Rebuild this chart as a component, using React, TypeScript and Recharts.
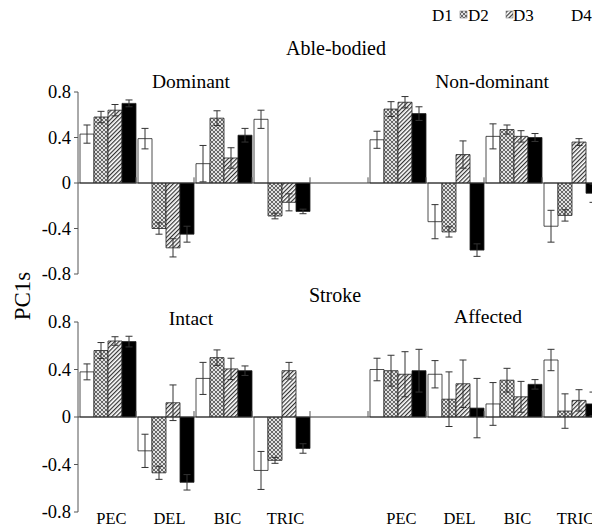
import React from 'react';
import { BarChart, Bar, XAxis, YAxis, ErrorBar, ReferenceLine } from 'recharts';

const FONT = '"Liberation Serif", "Times New Roman", serif';

const muscles = ['PEC', 'DEL', 'BIC', 'TRIC'];
const series = ['D1', 'D2', 'D3', 'D4'];
const yTicks = [-0.8, -0.4, 0, 0.4, 0.8];

// Able-bodied: Dominant (PEC, DEL, BIC, TRIC) then Non-dominant
const ableD1 = [0.43, 0.39, 0.17, 0.56, 0.38, -0.34, 0.41, -0.38];
const ableD2 = [0.58, -0.4, 0.57, -0.29, 0.65, -0.43, 0.47, -0.285];
const ableD3 = [0.64, -0.57, 0.22, -0.17, 0.71, 0.25, 0.41, 0.36];
const ableD4 = [0.7, -0.45, 0.42, -0.25, 0.61, -0.59, 0.4, -0.09];
const ableE1 = [0.08, 0.09, 0.16, 0.08, 0.075, 0.15, 0.11, 0.14];
const ableE2 = [0.05, 0.05, 0.065, 0.025, 0.065, 0.045, 0.04, 0.05];
const ableE3 = [0.05, 0.08, 0.09, 0.075, 0.05, 0.12, 0.05, 0.03];
const ableE4 = [0.03, 0.07, 0.06, 0.02, 0.06, 0.055, 0.035, 0.08];

// Stroke: Intact then Affected
const strokeD1 = [0.38, -0.285, 0.325, -0.45, 0.4, 0.36, 0.11, 0.48];
const strokeD2 = [0.56, -0.47, 0.5, -0.365, 0.39, 0.15, 0.31, 0.05];
const strokeD3 = [0.64, 0.12, 0.405, 0.39, 0.36, 0.28, 0.17, 0.14];
const strokeD4 = [0.635, -0.55, 0.39, -0.265, 0.39, 0.075, 0.275, 0.11];
const strokeE1 = [0.067, 0.14, 0.135, 0.16, 0.095, 0.115, 0.18, 0.09];
const strokeE2 = [0.067, 0.055, 0.065, 0.025, 0.13, 0.23, 0.1, 0.145];
const strokeE3 = [0.036, 0.15, 0.09, 0.07, 0.19, 0.2, 0.13, 0.09];
const strokeE4 = [0.045, 0.065, 0.04, 0.04, 0.18, 0.25, 0.04, 0.1];

const fills = ['#ffffff', 'url(#crossPat)', 'url(#hatchPat)', '#000000'];

function buildRows(d: number[][], e: number[][]) {
  const rows: any[] = [];
  for (let i = 0; i < 9; i++) {
    if (i === 4) {
      rows.push({ id: 'gap', label: '' });
      continue;
    }
    const k = i < 4 ? i : i - 1;
    const side = i < 4 ? 'L' : 'R';
    const row: any = { id: side + muscles[k % 4], label: muscles[k % 4] };
    for (let s = 0; s < 4; s++) {
      row['d' + (s + 1)] = d[s][k];
      row['e' + (s + 1)] = e[s][k];
    }
    rows.push(row);
  }
  return rows;
}

const ableRows = buildRows([ableD1, ableD2, ableD3, ableD4], [ableE1, ableE2, ableE3, ableE4]);
const strokeRows = buildRows(
  [strokeD1, strokeD2, strokeD3, strokeD4],
  [strokeE1, strokeE2, strokeE3, strokeE4]
);

const YTick = ({ x, y, payload }: any) => (
  <text x={x} y={y} dy="0.35em" textAnchor="end" fontFamily={FONT} fontSize={18.5} fill="#000">
    {String(payload.value)}
  </text>
);

function Panel({ rows, top, height, marginTop, showLabels }: any) {
  const XTick = ({ x, y, index }: any) => (
    <text x={x + 4.5} y={y} dy="0.71em" textAnchor="middle" fontFamily={FONT} fontSize={16.5} fill="#000">
      {rows[index]?.label ?? ''}
    </text>
  );
  return (
    <div style={{ position: 'absolute', left: 0, top }}>
      <BarChart
        width={610}
        height={height}
        data={rows}
        margin={{ top: marginTop, right: 10, bottom: showLabels ? 0 : 16, left: 0 }}
        barCategoryGap={2}
        barGap={0}
      >
        <XAxis
          dataKey="id"
          hide={!showLabels}
          interval={0}
          axisLine={false}
          tickLine={false}
          tickSize={0}
          tickMargin={0}
          height={17}
          tick={<XTick />}
        />
        <YAxis
          width={78}
          domain={[-0.8, 0.8]}
          ticks={yTicks}
          allowDataOverflow
          tickSize={4}
          tickMargin={3}
          axisLine={{ stroke: '#555' }}
          tickLine={{ stroke: '#555' }}
          tick={<YTick />}
        />
        {series.map((s, i) => (
          <Bar
            key={s}
            dataKey={'d' + (i + 1)}
            fill={fills[i]}
            stroke="#222"
            strokeWidth={0.8}
            isAnimationActive={false}
          >
            <ErrorBar dataKey={'e' + (i + 1)} width={3.5} stroke="#333" strokeWidth={1} />
          </Bar>
        ))}
        <ReferenceLine y={0} stroke="#333" strokeWidth={1} />
        {rows.slice(1).map((r: any) => (
          <ReferenceLine
            key={'t' + r.id}
            segment={[{ x: r.id, y: 0 }, { x: r.id, y: 0.05 }]}
            position="start"
            stroke="#555"
          />
        ))}
      </BarChart>
    </div>
  );
}

export default function App() {
  return (
    <div
      style={{
        position: 'fixed',
        left: 0,
        top: 0,
        width: 592,
        height: 529,
        overflow: 'hidden',
        background: '#fff',
        fontFamily: FONT,
      }}
    >
      <svg width={0} height={0} style={{ position: 'absolute' }}>
        <defs>
          <pattern id="crossPat" width={4} height={4} patternUnits="userSpaceOnUse">
            <rect width={4} height={4} fill="#666" />
            <circle cx={0} cy={0} r={1.1} fill="#fff" />
            <circle cx={4} cy={0} r={1.1} fill="#fff" />
            <circle cx={0} cy={4} r={1.1} fill="#fff" />
            <circle cx={4} cy={4} r={1.1} fill="#fff" />
            <circle cx={2} cy={2} r={1.1} fill="#fff" />
          </pattern>
          <pattern
            id="hatchPat"
            width={3}
            height={3}
            patternUnits="userSpaceOnUse"
            patternTransform="rotate(45)"
          >
            <rect width={3} height={3} fill="#fff" />
            <rect width={1.2} height={3} fill="#333" />
          </pattern>
        </defs>
      </svg>
      <Panel rows={ableRows} top={0} height={290} marginTop={92} showLabels={false} />
      <Panel rows={strokeRows} top={290} height={239} marginTop={32} showLabels />
      <svg
        width={592}
        height={529}
        style={{ position: 'absolute', left: 0, top: 0, pointerEvents: 'none' }}
        fontFamily={FONT}
        fontSize={19.5}
      >
        <g fontSize={17}>
          <text x={432} y={21}>D1</text>
          <rect x={460} y={11} width={7} height={7} fill="url(#crossPat)" stroke="#666" strokeWidth={0.5} />
          <text x={468} y={21}>D2</text>
          <rect x={506} y={11} width={7} height={7} fill="url(#hatchPat)" stroke="#666" strokeWidth={0.5} />
          <text x={513} y={21}>D3</text>
          <text x={571} y={21}>D4</text>
        </g>
        <text x={336} y={55} textAnchor="middle" fontSize={20}>Able-bodied</text>
        <text x={191} y={88} textAnchor="middle">Dominant</text>
        <text x={492} y={88} textAnchor="middle">Non-dominant</text>
        <text x={335} y={302} textAnchor="middle" fontSize={20}>Stroke</text>
        <text x={191} y={325} textAnchor="middle">Intact</text>
        <text x={488} y={323} textAnchor="middle">Affected</text>
        <text x={30} y={296} textAnchor="middle" fontSize={23} transform="rotate(-90 30 296)">
          PC1s
        </text>
      </svg>
    </div>
  );
}
